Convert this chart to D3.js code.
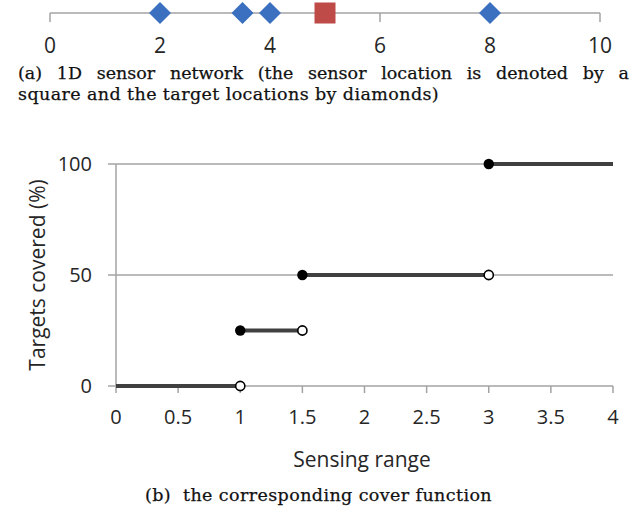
<!DOCTYPE html>
<html>
<head>
<meta charset="utf-8">
<script src="https://cdn.jsdelivr.net/npm/d3@7"></script>
<style>
  html, body { margin: 0; padding: 0; background: #fff; }
  svg { display: block; }
</style>
</head>
<body>
<svg id="chart" width="632" height="512"></svg>
<script>
// (a) positions on the line
const lineTicks = [0, 2, 4, 6, 8, 10];
const targetPositions = [2, 3.5, 4, 8];
const sensorPositions = [5];

// (b) cover function: piecewise-constant segments [start, end) -> value
const segStart = [0, 1, 1.5, 3];
const segEnd = [1, 1.5, 3, 4];
const segValue = [0, 25, 50, 100];
const closedEnds = [false, false, false, true];
const coverXTicks = [0, 0.5, 1, 1.5, 2, 2.5, 3, 3.5, 4];
const coverYTicks = [0, 50, 100];

const captionA1 = "(a) 1D sensor network (the sensor location is denoted by a";
const captionA2 = "square and the target locations by diamonds)";
const captionB = "(b)  the corresponding cover function";

const axisFont = "'Open Sans', Lato, sans-serif";
const captionFont = "'DejaVu Serif', 'Liberation Serif', serif";
const captionSize = 17.5;
const gridColor = "#a3a3a3";
const textColor = "#262626";

const svg = d3.select("#chart");

// ---------- (a) 1D sensor network ----------
const xa = d3.scaleLinear().domain([0, 10]).range([50, 600]);
const lineY = 13;
const gA = svg.append("g");

gA.append("line")
  .attr("x1", xa(0)).attr("x2", xa(10))
  .attr("y1", lineY).attr("y2", lineY)
  .attr("stroke", gridColor).attr("stroke-width", 1.5);

gA.selectAll("line.tick").data(lineTicks).join("line")
  .attr("class", "tick")
  .attr("x1", d => xa(d)).attr("x2", d => xa(d))
  .attr("y1", lineY).attr("y2", lineY + 9)
  .attr("stroke", gridColor).attr("stroke-width", 1.5);

gA.selectAll("text.tl").data(lineTicks).join("text")
  .attr("class", "tl")
  .attr("x", d => xa(d)).attr("y", 53)
  .attr("text-anchor", "middle")
  .attr("font-family", axisFont).attr("font-size", 21)
  .attr("fill", textColor)
  .text(d => d);

const dm = 11;
gA.selectAll("path.target").data(targetPositions).join("path")
  .attr("class", "target")
  .attr("d", d => `M${xa(d)},${lineY - dm} L${xa(d) + dm},${lineY} L${xa(d)},${lineY + dm} L${xa(d) - dm},${lineY} Z`)
  .attr("fill", "#3b6fbf");

const sq = 21;
gA.selectAll("rect.sensor").data(sensorPositions).join("rect")
  .attr("class", "sensor")
  .attr("x", d => xa(d) - sq / 2).attr("y", lineY - sq / 2)
  .attr("width", sq).attr("height", sq)
  .attr("fill", "#be4b48");

// caption line 1 is justified by spreading its words across [18, 629]
const capA1 = svg.append("text")
  .attr("font-family", captionFont).attr("font-size", captionSize)
  .attr("fill", "#111").attr("stroke", "#111").attr("stroke-width", 0.25);
const wordsA1 = captionA1.split(" ");
const spans = wordsA1.map(w => capA1.append("tspan").attr("y", 79).text(w));
const widths = spans.map(s => s.node().getComputedTextLength());
const gap = (629 - 18 - d3.sum(widths)) / (wordsA1.length - 1);
let cx = 18;
spans.forEach((s, i) => { s.attr("x", cx); cx += widths[i] + gap; });

svg.append("text")
  .attr("x", 18).attr("y", 99.5)
  .attr("font-family", captionFont).attr("font-size", captionSize)
  .attr("letter-spacing", 0.4)
  .attr("fill", "#111").attr("stroke", "#111").attr("stroke-width", 0.25)
  .text(captionA2);

// ---------- (b) cover function ----------
const x = d3.scaleLinear().domain([0, 4]).range([116, 613]);
const y = d3.scaleLinear().domain([0, 100]).range([386, 164]);
const gB = svg.append("g");

// horizontal gridlines
gB.selectAll("line.grid").data(coverYTicks).join("line")
  .attr("class", "grid")
  .attr("x1", x(0) - 8).attr("x2", x(4))
  .attr("y1", d => y(d)).attr("y2", d => y(d))
  .attr("stroke", gridColor).attr("stroke-width", 1.5);

// vertical axis line
gB.append("line")
  .attr("x1", x(0)).attr("x2", x(0))
  .attr("y1", y(100)).attr("y2", y(0))
  .attr("stroke", gridColor).attr("stroke-width", 1.5);

// x axis ticks
gB.selectAll("line.xt").data(coverXTicks).join("line")
  .attr("class", "xt")
  .attr("x1", d => x(d)).attr("x2", d => x(d))
  .attr("y1", y(0)).attr("y2", y(0) + 7)
  .attr("stroke", gridColor).attr("stroke-width", 1.5);

gB.selectAll("text.xl").data(coverXTicks).join("text")
  .attr("class", "xl")
  .attr("x", d => x(d)).attr("y", 424)
  .attr("text-anchor", "middle")
  .attr("font-family", axisFont).attr("font-size", 20)
  .attr("fill", textColor)
  .text(d => d);

gB.selectAll("text.yl").data(coverYTicks).join("text")
  .attr("class", "yl")
  .attr("x", 92).attr("y", d => y(d) + 7)
  .attr("text-anchor", "end")
  .attr("font-family", axisFont).attr("font-size", 20)
  .attr("fill", textColor)
  .text(d => d);

gB.append("text")
  .attr("x", 362).attr("y", 467)
  .attr("text-anchor", "middle")
  .attr("font-family", axisFont).attr("font-size", 21)
  .attr("fill", textColor)
  .text("Sensing range");

gB.append("text")
  .attr("transform", `translate(45,${(y(0) + y(100)) / 2}) rotate(-90)`)
  .attr("text-anchor", "middle")
  .attr("font-family", axisFont).attr("font-size", 21)
  .attr("fill", textColor)
  .text("Targets covered (%)");

// step segments
const steps = segStart.map((s, i) => ({ s, e: segEnd[i], v: segValue[i], closed: closedEnds[i] }));
gB.selectAll("line.step").data(steps).join("line")
  .attr("class", "step")
  .attr("x1", d => x(d.s)).attr("x2", d => x(d.e))
  .attr("y1", d => y(d.v)).attr("y2", d => y(d.v))
  .attr("stroke", "#404040").attr("stroke-width", 4);

// filled dots at included left ends (the origin has none)
gB.selectAll("circle.in").data(steps.filter(d => d.s > 0)).join("circle")
  .attr("class", "in")
  .attr("cx", d => x(d.s)).attr("cy", d => y(d.v)).attr("r", 5.2)
  .attr("fill", "#000");

// open circles at excluded right ends
gB.selectAll("circle.out").data(steps.filter(d => !d.closed)).join("circle")
  .attr("class", "out")
  .attr("cx", d => x(d.e)).attr("cy", d => y(d.v)).attr("r", 4.6)
  .attr("fill", "#fff").attr("stroke", "#000").attr("stroke-width", 1.6);

svg.append("text")
  .attr("x", 145).attr("y", 501)
  .attr("font-family", captionFont).attr("font-size", captionSize)
  .attr("letter-spacing", 0.4)
  .attr("fill", "#111").attr("stroke", "#111").attr("stroke-width", 0.25)
  .style("white-space", "pre")
  .text(captionB);
</script>
</body>
</html>
